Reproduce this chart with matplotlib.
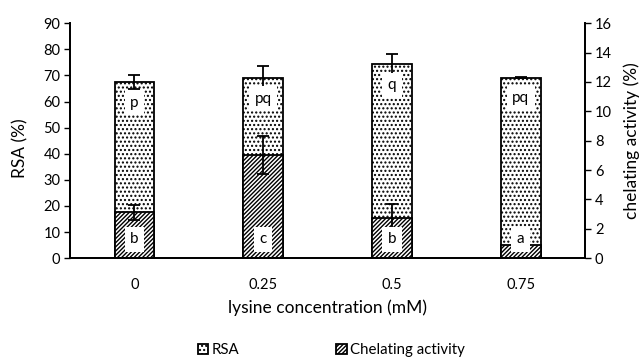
import matplotlib.pyplot as plt
import numpy as np

plt.rcParams['font.family'] = ['Lato', 'DejaVu Sans']
plt.rcParams['hatch.linewidth'] = 1.0
plt.rcParams['hatch.color'] = 'black'

concentrations = ["0", "0.25", "0.5", "0.75"]
rsa = [67.6, 69.0, 74.2, 69.2]
rsa_err = [2.7, 4.8, 4.0, 0.3]
rsa_letters = ["p", "pq", "q", "pq"]
chelating = [3.12, 7.05, 2.72, 0.88]
chel_err = [0.52, 1.3, 1.0, 0.0]
chel_letters = ["b", "c", "b", "a"]

x = np.arange(len(concentrations))
w = 0.31

fig = plt.figure(figsize=(6.43, 3.58), dpi=100)
ax = fig.add_axes([0.109, 0.279, 0.801, 0.656])
ax2 = ax.twinx()

# RSA bars on the left axis
ax.bar(x, rsa, w, color='white', edgecolor='black', linewidth=1.3,
       hatch='....', label='RSA')
ax.errorbar(x, rsa, yerr=rsa_err, fmt='none', ecolor='black',
            elinewidth=1.3, capsize=4, capthick=1.3)
for xi, v, t in zip(x, rsa, rsa_letters):
    ax.text(xi, v - 8, t, ha='center', va='center', fontsize=11,
            bbox=dict(facecolor='white', edgecolor='none', pad=4))

# chelating bars on the right axis, drawn over the RSA bars
ax2.bar(x, chelating, w, color='white', edgecolor='black', linewidth=1.3,
        hatch='////////', label='Chelating activity')
ax2.errorbar(x, chelating, yerr=chel_err, fmt='none', ecolor='black',
             elinewidth=1.3, capsize=4, capthick=1.3)
for xi, t in zip(x, chel_letters):
    ax2.text(xi, 1.27, t, ha='center', va='center', fontsize=11,
             bbox=dict(facecolor='white', edgecolor='none', pad=4))

ax.set_ylim(0, 90)
ax.set_yticks(range(0, 91, 10))
ax2.set_ylim(0, 16)
ax2.set_yticks(range(0, 17, 2))
ax.set_xlim(-0.5, 3.5)
ax.set_xticks(x)
ax.set_xticklabels(concentrations)

for a in (ax, ax2):
    a.spines['top'].set_visible(False)
    for s in a.spines.values():
        s.set_linewidth(1.3)
    a.tick_params(axis='y', labelsize=10.5, length=4, width=1.0, pad=3)
ax.tick_params(axis='x', length=0, labelsize=10.5, pad=14)

ax.set_ylabel('RSA (%)', fontsize=12.5, va='center')
ax.yaxis.set_label_coords(-0.097, 0.47)
ax2.set_ylabel('chelating activity (%)', fontsize=12.5, va='center')
ax2.yaxis.set_label_coords(1.091, 0.5)
ax.set_xlabel('lysine concentration (mM)', fontsize=12.5, labelpad=6)

h1, l1 = ax.get_legend_handles_labels()
h2, l2 = ax2.get_legend_handles_labels()
fig.legend(h1 + h2, l1 + l2, loc='center', bbox_to_anchor=(0.515, 0.022),
           ncol=2, frameon=False, fontsize=10.8, handlelength=0.7,
           handleheight=0.7, handletextpad=0.2, columnspacing=6.5)

fig.savefig('out.png', dpi=100)
